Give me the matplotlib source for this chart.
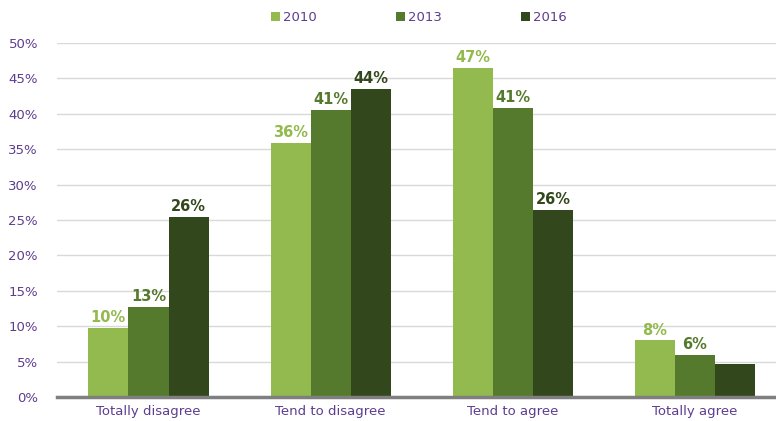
import matplotlib
matplotlib.use("Agg")

import matplotlib.pyplot as plt
import numpy as np

categories = ["Totally disagree", "Tend to disagree", "Tend to agree", "Totally agree"]
years = ["2010", "2013", "2016"]
v2010 = [9.7, 35.9, 46.5, 8.0]
v2013 = [12.7, 40.6, 40.8, 5.9]
v2016 = [25.4, 43.5, 26.4, 4.7]
labels2010 = ["10%", "36%", "47%", "8%"]
labels2013 = ["13%", "41%", "41%", "6%"]
labels2016 = ["26%", "44%", "26%", ""]

colors = ["#92ba4e", "#567a2d", "#33471c"]
purple = "#5e3d8f"

fig = plt.figure(figsize=(7.76, 4.21), dpi=100)
# axes runs a little past the right edge, like the original
ax = fig.add_axes([0.074, 0.057, 0.939, 0.841])

x = np.arange(len(categories))
w = 0.22
series = [v2010, v2013, v2016]
lbls = [labels2010, labels2013, labels2016]
for i, (vals, lab, c) in enumerate(zip(series, lbls, colors)):
    bars = ax.bar(x + (i - 1) * w, vals, w, color=c, label=years[i], zorder=3)
    for b, t in zip(bars, lab):
        ax.text(b.get_x() + b.get_width() / 2, b.get_height() + 0.4, t,
                ha="center", va="bottom", fontsize=10.5, fontweight="bold", color=c)

ax.set_xlim(-0.5, len(categories) - 0.5)
ax.set_ylim(0, 50)
ax.set_yticks(np.arange(0, 51, 5))
ax.set_yticklabels([f"{v}%" for v in range(0, 51, 5)])
ax.set_xticks(x)
ax.set_xticklabels(categories)
ax.tick_params(axis="both", length=0, labelsize=9.5, colors=purple)
ax.tick_params(axis="y", pad=14)
ax.tick_params(axis="x", pad=6)

ax.grid(axis="y", color="#d9d9d9", linewidth=1, zorder=0)
for s in ["top", "right", "left"]:
    ax.spines[s].set_visible(False)
ax.spines["bottom"].set_color("#7f7f7f")
ax.spines["bottom"].set_linewidth(2.5)
ax.spines["bottom"].set_zorder(4)

leg = ax.legend(loc="lower center", bbox_to_anchor=(0.496, 1.02), ncol=3, frameon=False,
                handlelength=0.7, handleheight=0.7, handletextpad=0.2,
                columnspacing=6.0, fontsize=9.5)
for t in leg.get_texts():
    t.set_color(purple)

fig.savefig("out.png", dpi=100)
